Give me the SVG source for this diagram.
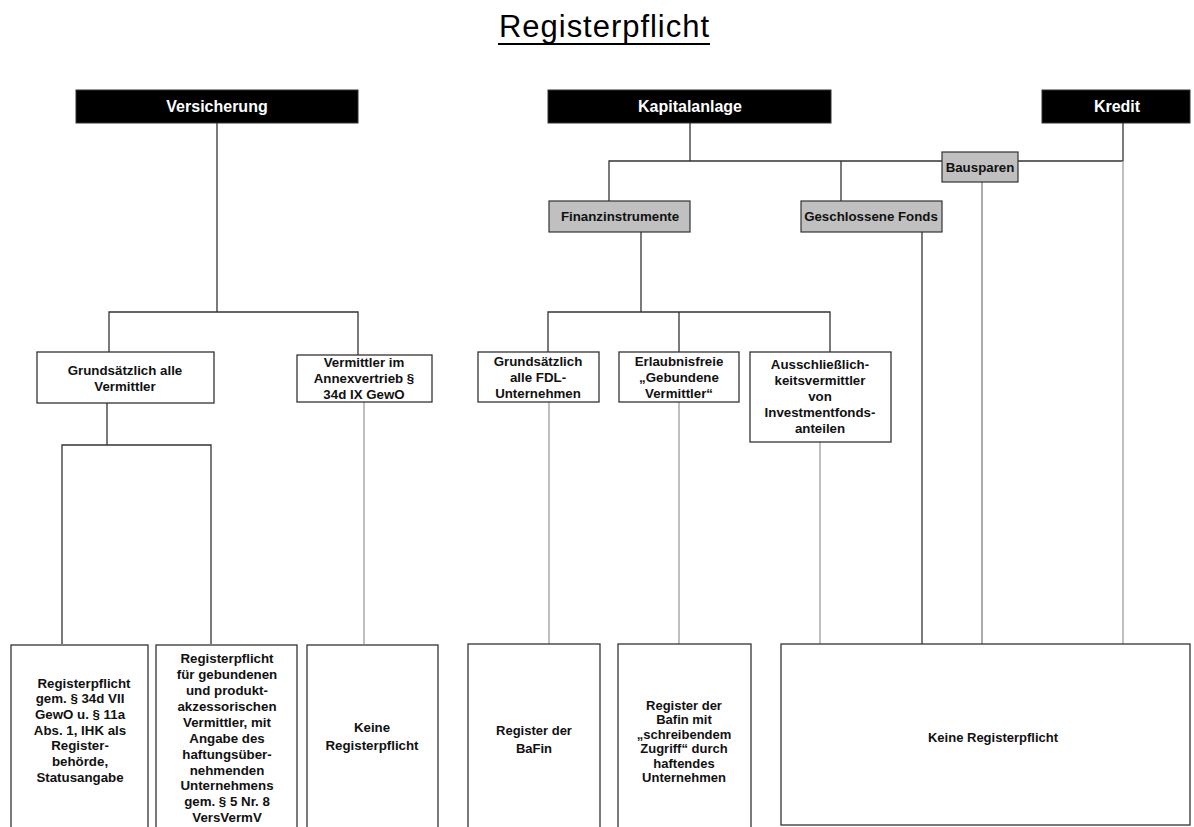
<svg xmlns="http://www.w3.org/2000/svg" width="1194" height="827" viewBox="0 0 1194 827">
<style>
.hdr{fill:#000;stroke:#333;stroke-width:1}
.hdrt{fill:#fff;font-family:"Liberation Sans",Arial,sans-serif;font-weight:bold;font-size:16px;text-anchor:middle}
.gbox{fill:#c0c0c0;stroke:#333;stroke-width:1.2}
.box{fill:#fff;stroke:#333;stroke-width:1.3}
.t{font-family:"Liberation Sans",Arial,sans-serif;font-weight:bold;font-size:13.3px;text-anchor:middle;fill:#111}
.n{font-family:"Liberation Sans",Arial,sans-serif;font-weight:bold;font-size:13px;text-anchor:middle;fill:#111}
.dk{stroke:#333;stroke-width:1.3;fill:none}
.lt{stroke:#b0b0b0;stroke-width:1.6;fill:none}
.md{stroke:#888;stroke-width:1.4;fill:none}
</style>
<rect width="1194" height="827" fill="#fff"/>
<g id="title">
<text x="604" y="37" font-family="'Liberation Sans',Arial,sans-serif" font-size="31" text-anchor="middle" textLength="210" fill="#000">Registerpflicht</text>
<line x1="498" y1="44" x2="710" y2="44" stroke="#000" stroke-width="2"/>
</g>
<g id="connectors">
<path class="dk" d="M217 123V312M109 352V312H358V355M107 403V445M62 644V445H211V644"/>
<path class="lt" d="M364 402V644"/>
<path class="dk" d="M690 123V161M609 201V161H942M841 161V201M1018 161H1123V123"/>
<path class="lt" d="M1123 161V644"/>
<path class="md" d="M982 182V644"/>
<path class="dk" d="M922 232V644"/>
<path class="dk" d="M641 232V312M548 352V312H830V352M679 312V352"/>
<path class="lt" d="M549 402V644M679 402V644M820 442V644"/>
</g>
<g id="versicherung"><rect class="hdr" x="76" y="90" width="282" height="33"/><text class="hdrt" x="217" y="112">Versicherung</text></g>
<g id="kapitalanlage"><rect class="hdr" x="548" y="90" width="283" height="33"/><text class="hdrt" x="690" y="112">Kapitalanlage</text></g>
<g id="kredit"><rect class="hdr" x="1042" y="90" width="148" height="33"/><text class="hdrt" x="1117" y="112">Kredit</text></g>
<g id="bausparen"><rect class="gbox" x="942" y="152" width="76" height="30"/><text class="t" x="980" y="172">Bausparen</text></g>
<g id="finanzinstrumente"><rect class="gbox" x="549" y="201" width="141" height="31"/><text class="t" x="620" y="221">Finanzinstrumente</text></g>
<g id="geschlossene-fonds"><rect class="gbox" x="801" y="201" width="141" height="31"/><text class="t" x="871" y="221">Geschlossene Fonds</text></g>
<g id="grundsaetzlich-vermittler"><rect class="box" x="37" y="352" width="177" height="51"/><text class="t" x="125" y="375">Grundsätzlich alle</text><text class="t" x="125" y="391">Vermittler</text></g>
<g id="annexvertrieb"><rect class="box" x="297" y="355" width="135" height="47"/><text class="t" x="364" y="367">Vermittler im</text><text class="t" x="364" y="383">Annexvertrieb §</text><text class="t" x="364" y="399">34d IX GewO</text></g>
<g id="fdl"><rect class="box" x="478" y="352" width="121" height="50"/><text class="t" x="538" y="366">Grundsätzlich</text><text class="t" x="538" y="382">alle FDL-</text><text class="t" x="538" y="398">Unternehmen</text></g>
<g id="gebundene"><rect class="box" x="619" y="352" width="120" height="50"/><text class="t" x="679" y="366">Erlaubnisfreie</text><text class="t" x="679" y="382">„Gebundene</text><text class="t" x="679" y="398">Vermittler“</text></g>
<g id="ausschliesslich"><rect class="box" x="750" y="352" width="141" height="90"/><text class="t" x="820" y="369">Ausschließlich-</text><text class="t" x="820" y="385">keitsvermittler</text><text class="t" x="820" y="401">von</text><text class="t" x="820" y="417">Investmentfonds-</text><text class="t" x="820" y="433">anteilen</text></g>
<g id="reg-34d"><rect class="box" x="11" y="645" width="137" height="200"/>
<text class="t" x="84" y="688">Registerpflicht</text><text class="t" x="80" y="703">gem. § 34d VII</text><text class="t" x="80" y="719">GewO u. § 11a</text><text class="t" x="80" y="735">Abs. 1, IHK als</text><text class="t" x="80" y="750">Register-</text><text class="t" x="80" y="766">behörde,</text><text class="t" x="80" y="782">Statusangabe</text></g>
<g id="reg-gebunden"><rect class="box" x="156" y="645" width="141" height="200"/>
<text class="t" x="227" y="663">Registerpflicht</text><text class="t" x="227" y="679">für gebundenen</text><text class="t" x="227" y="695">und produkt-</text><text class="t" x="227" y="711">akzessorischen</text><text class="t" x="227" y="727">Vermittler, mit</text><text class="t" x="227" y="743">Angabe des</text><text class="t" x="227" y="759">haftungsüber-</text><text class="t" x="227" y="775">nehmenden</text><text class="t" x="227" y="790">Unternehmens</text><text class="t" x="227" y="806">gem. § 5 Nr. 8</text><text class="t" x="227" y="822">VersVermV</text></g>
<g id="keine-annex"><rect class="box" x="307" y="645" width="131" height="200"/><text class="t" x="372" y="732">Keine</text><text class="t" x="372" y="750">Registerpflicht</text></g>
<g id="register-bafin"><rect class="box" x="468" y="644" width="132" height="200"/><text class="n" x="534" y="735">Register der</text><text class="n" x="534" y="753">BaFin</text></g>
<g id="register-bafin-zugriff"><rect class="box" x="618" y="644" width="133" height="200"/><text class="n" x="684" y="710">Register der</text><text class="n" x="684" y="724">Bafin mit</text><text class="n" x="684" y="739">„schreibendem</text><text class="n" x="684" y="753">Zugriff“ durch</text><text class="n" x="684" y="768">haftendes</text><text class="n" x="684" y="782">Unternehmen</text></g>
<g id="keine-registerpflicht"><rect class="box" x="781" y="644" width="409" height="181"/><text class="n" x="993" y="742">Keine Registerpflicht</text></g>
</svg>
